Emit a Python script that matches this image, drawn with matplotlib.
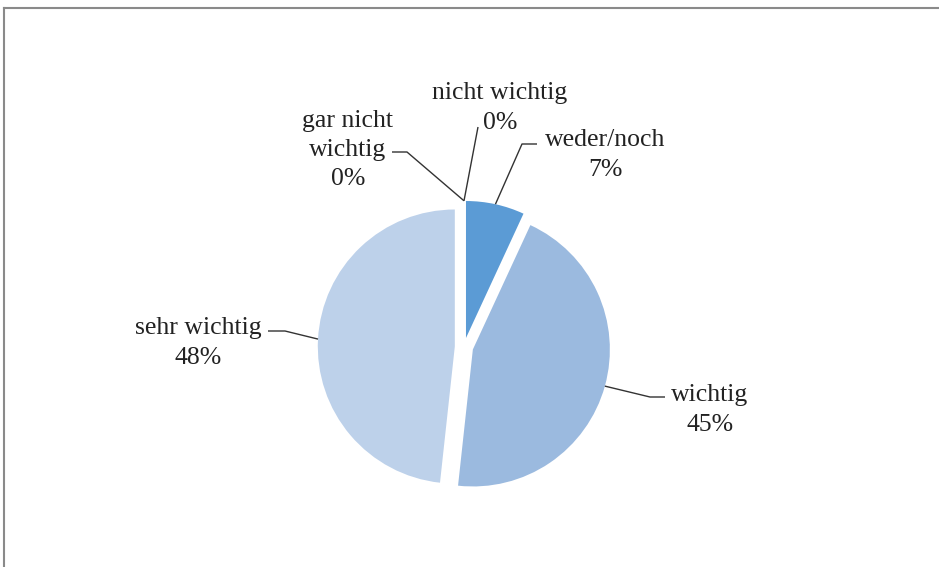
import matplotlib.pyplot as plt
import numpy as np
from matplotlib.lines import Line2D

# survey answers (counts), clockwise from 12 o'clock
categories = ['gar nicht\nwichtig', 'nicht wichtig', 'weder/noch', 'wichtig', 'sehr wichtig']
counts = [0, 0, 2, 13, 14]
colors = ['#2E75B6', '#4A89C8', '#5B9BD5', '#9BBADF', '#BDD1EA']

W, H = 939, 567
fig = plt.figure(figsize=(W / 100, H / 100), dpi=100)
ax = fig.add_axes([0, 0, 1, 1])

# axes in pixel units, y pointing up
cx, cy, R = 464, H - 347, 137
expl = 9.2
wedges, _ = ax.pie(counts, colors=colors, startangle=90, counterclock=False,
                   center=(cx, cy), radius=R, explode=[expl] * len(counts),
                   wedgeprops=dict(linewidth=0))
ax.set_xlim(0, W)
ax.set_ylim(0, H)
ax.set_aspect('equal')
ax.axis('off')

total = sum(counts)
pct = [f'{round(100 * c / total)}%' for c in counts]

# label block centre and leader bends (image pixels, y down)
label_pos = [(348, 150), (500, 108), (605, 155), (710, 410), (198, 343)]
leader_pts = [[(407, 152), (392, 152)],
              [(478, 127)],
              [(522, 144), (537, 144)],
              [(650, 397), (665, 397)],
              [(285, 331), (268, 331)]]

for w, name, p, (lx, ly), pts in zip(wedges, categories, pct, label_pos, leader_pts):
    th = np.deg2rad((w.theta1 + w.theta2) / 2)
    x0 = w.center[0] + w.r * np.cos(th)
    y0 = w.center[1] + w.r * np.sin(th)
    xs = [x0] + [q[0] for q in pts]
    ys = [y0] + [H - q[1] for q in pts]
    ax.plot(xs, ys, color='#333333', lw=1.0, solid_capstyle='butt')
    ax.text(lx, H - ly, f'{name}\n{p}', ha='center', va='center',
            family='Liberation Serif', fontsize=18.5, color='#222222',
            linespacing=1.43)

# chart area border (top and left visible)
fig.add_artist(Line2D([4 / W, 1], [1 - 8 / H, 1 - 8 / H], color='#8a8a8a', lw=1.5,
                      transform=fig.transFigure))
fig.add_artist(Line2D([4 / W, 4 / W], [0, 1 - 8 / H], color='#8a8a8a', lw=1.5,
                      transform=fig.transFigure))

fig.savefig('out.png', dpi=100)
